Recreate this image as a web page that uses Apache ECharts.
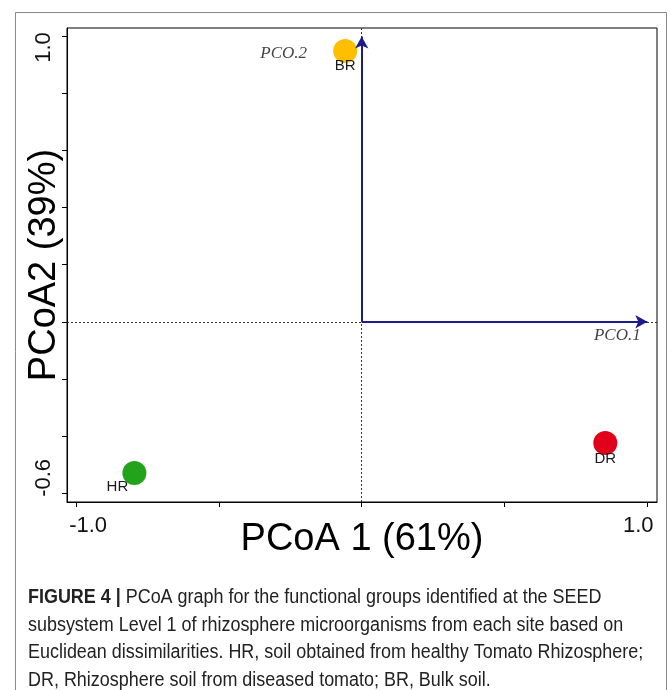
<!DOCTYPE html>
<html><head><meta charset="utf-8">
<script src="https://cdn.jsdelivr.net/npm/echarts@6/dist/echarts.min.js"></script>
<style>html,body{margin:0;padding:0;background:#fff}#c{width:671px;height:690px}</style>
</head><body><div id="c"></div>
<script>
// ---- data ----
const sites = ['BR', 'DR', 'HR'];
const pcoa1 = [-0.058, 0.853, -0.796];
const pcoa2 = [0.949, -0.425, -0.530];
const arrowNames = ['PCO.1', 'PCO.2'];
const arrowX = [1.0, 0.0];
const arrowY = [0.0, 1.0];
const xTicks = [-1.0, -0.5, 0.0, 0.5, 1.0];
const xLabels = [-1.0, 1.0];
const yTicks = [-0.6, -0.4, -0.2, 0.0, 0.2, 0.4, 0.6, 0.8, 1.0];
const yLabels = [-0.6, 1.0];
const xTitle = 'PCoA 1 (61%)';
const yTitle = 'PCoA2 (39%)';
const captionBold = 'FIGURE 4 |';
const captionLines = [
  ' PCoA graph for the functional groups identified at the SEED',
  'subsystem Level 1 of rhizosphere microorganisms from each site based on',
  'Euclidean dissimilarities. HR, soil obtained from healthy Tomato Rhizosphere;',
  'DR, Rhizosphere soil from diseased tomato; BR, Bulk soil.'
];

// ---- styles ----
const siteColors = ['#FFBF00', '#E2001A', '#23A31C'];
const siteLabelOffsets = [[0, 15], [0, 16], [-17, 14]];
const arrowLabelOffsets = [[-30, 14], [-78, 17]];
const SANS = "'Liberation Sans', Arial, sans-serif";
const SERIF = "'Liberation Serif', 'Times New Roman', serif";

const chart = echarts.init(document.getElementById('c'), null, {renderer: 'canvas'});

const option = {
  backgroundColor: '#fff',
  animation: false,
  grid: {left: 67, top: 28, right: 14, bottom: 188, outerBoundsMode: 'none', containLabel: false,
         show: true, borderColor: '#000', borderWidth: 1, backgroundColor: 'transparent'},
  xAxis: {
    type: 'value', min: -1.032, max: 1.034,
    axisLine: {show: true, onZero: false, lineStyle: {color: '#000', width: 1}},
    axisTick: {show: true, customValues: xTicks, length: 5, lineStyle: {color: '#000'}},
    axisLabel: {
      show: true, customValues: xLabels, margin: 13, color: '#111', fontSize: 22, fontFamily: SANS,
      formatter: v => (v < 0 ? '{l|' : '{r|') + v.toFixed(1) + '}',
      rich: {l: {fontSize: 22, fontFamily: SANS, color: '#111', padding: [0, 0, 0, 24]},
             r: {fontSize: 22, fontFamily: SANS, color: '#111', padding: [0, 18, 0, 0]}}
    },
    splitLine: {show: false},
    name: xTitle, nameLocation: 'middle', nameGap: 19, nameMoveOverlap: false,
    nameTextStyle: {fontSize: 38, fontFamily: SANS, color: '#000'}
  },
  yAxis: {
    type: 'value', min: -0.632, max: 1.03,
    axisLine: {show: true, onZero: false, lineStyle: {color: '#000', width: 1}},
    axisTick: {show: true, customValues: yTicks, length: 5, lineStyle: {color: '#000'}},
    axisLabel: {
      show: true, customValues: yLabels, rotate: 90, margin: 12, color: '#111', fontSize: 22, fontFamily: SANS,
      formatter: v => (v < 0 ? '{l|' : '{r|') + v.toFixed(1) + '}',
      rich: {l: {fontSize: 22, fontFamily: SANS, color: '#111', padding: [0, 0, 0, 30]},
             r: {fontSize: 22, fontFamily: SANS, color: '#111', padding: [0, 22, 0, 0]}}
    },
    splitLine: {show: false},
    name: yTitle, nameLocation: 'middle', nameGap: 3, nameRotate: 90, nameMoveOverlap: false,
    nameTextStyle: {fontSize: 38, fontFamily: SANS, color: '#000'}
  },
  series: [
    {
      type: 'scatter', name: 'ref', data: [], silent: true,
      markLine: {
        silent: true, symbol: ['none', 'none'], label: {show: false},
        lineStyle: {color: '#333', width: 1, type: [2, 2]},
        data: [{xAxis: 0}, {yAxis: 0}]
      }
    },
    {
      type: 'scatter', name: 'arrows', symbolSize: 0, z: 3,
      data: arrowNames.map((n, i) => ({value: [arrowX[i], arrowY[i]], name: n, label: {offset: arrowLabelOffsets[i]}})),
      label: {show: true, position: 'inside', formatter: '{b}', fontFamily: SERIF, fontStyle: 'italic', fontSize: 17, color: '#111'},
      markLine: {
        silent: true, symbol: ['none', 'arrow'], symbolSize: [10, 12], label: {show: false},
        lineStyle: {color: '#1B1B8A', width: 2, type: 'solid', opacity: 1},
        data: arrowNames.map((n, i) => [{coord: [0, 0]}, {coord: [arrowX[i], arrowY[i]]}])
      }
    },
    {
      type: 'scatter', name: 'sites', symbol: 'circle', symbolSize: 24, z: 4,
      itemStyle: {opacity: 1},
      data: sites.map((s, i) => ({value: [pcoa1[i], pcoa2[i]], name: s, itemStyle: {color: siteColors[i], opacity: 1}, label: {offset: siteLabelOffsets[i]}})),
      label: {show: true, position: 'inside', formatter: '{b}', fontFamily: SANS, fontSize: 15, color: '#1a1a1a'}
    }
  ],
  graphic: [
    {type: 'rect', silent: true, shape: {x: 15.5, y: 12.5, width: 651, height: 720},
     style: {fill: 'none', stroke: '#888', lineWidth: 1}},
    {type: 'text', silent: true, x: 28, y: 584, scaleX: 0.897,
     style: {
       text: '{b|' + captionBold + '}' + captionLines[0] + '\n' + captionLines.slice(1).join('\n'),
       fontSize: 20, fontFamily: SANS, fill: '#222', lineHeight: 27.5,
       rich: {b: {fontSize: 20, fontFamily: SANS, fontWeight: 'bold', fill: '#222', lineHeight: 27.5}}
     }}
  ]
};
chart.setOption(option);
</script>
</body></html>
